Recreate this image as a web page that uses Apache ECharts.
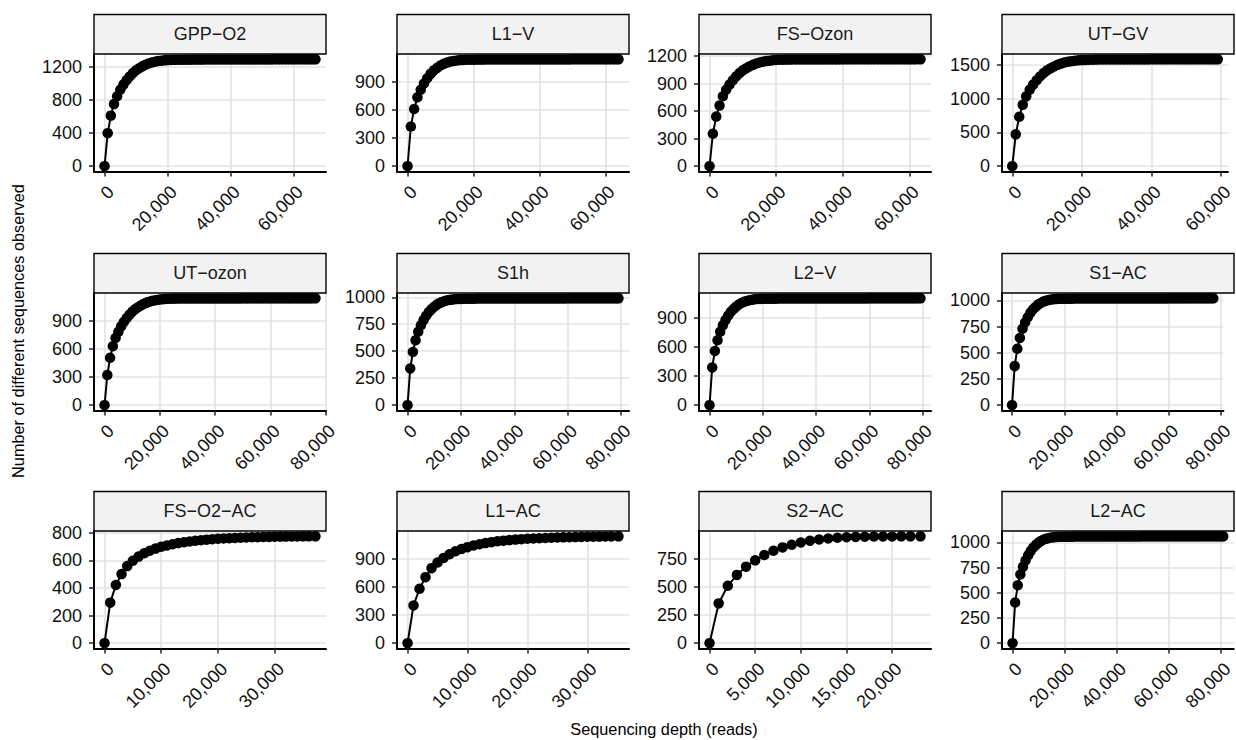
<!DOCTYPE html>
<html>
<head>
<meta charset="utf-8">
<script src="https://cdn.jsdelivr.net/npm/echarts@6/dist/echarts.min.js"></script>
<style>
  html, body { margin: 0; padding: 0; background: #fff; }
  #chart { width: 1236px; height: 740px; }
</style>
</head>
<body>
<div id="chart"></div>
<script>
// Rarefaction curves: distinct sequences observed vs. subsampled reads.
// Each sample is subsampled every STEP reads; the last point is the full depth.
const STEP = 1000;

const samples = ['GPP−O2', 'L1−V', 'FS−Ozon', 'UT−GV',
                 'UT−ozon', 'S1h', 'L2−V', 'S1−AC',
                 'FS−O2−AC', 'L1−AC', 'S2−AC', 'L2−AC'];

const depths = [67000, 64000, 63300, 59000,
                76300, 79000, 79200, 77000,
                37200, 35200, 23100, 80800];

const obsGPP_O2 = [
  0, 400, 612, 752, 846, 926, 988, 1041, 1087, 1127,
  1161, 1186, 1209, 1228, 1244, 1256, 1265, 1273, 1278, 1282,
  1285, 1287, 1288, 1289, 1289, 1290, 1290, 1290, 1291, 1291,
  1291, 1291, 1292, 1292, 1292, 1292, 1292, 1292, 1293, 1293,
  1293, 1293, 1293, 1293, 1293, 1293, 1293, 1293, 1293, 1293,
  1293, 1293, 1293, 1293, 1294, 1294, 1294, 1294, 1294, 1294,
  1294, 1294, 1294, 1294, 1294, 1294, 1294, 1294];

const obsL1_V = [
  0, 423, 610, 735, 815, 883, 939, 985, 1022, 1049,
  1074, 1092, 1105, 1116, 1123, 1128, 1132, 1134, 1135, 1136,
  1136, 1137, 1137, 1137, 1138, 1138, 1138, 1138, 1138, 1139,
  1139, 1139, 1139, 1139, 1139, 1139, 1139, 1139, 1139, 1139,
  1139, 1139, 1139, 1139, 1139, 1139, 1139, 1139, 1139, 1139,
  1140, 1140, 1140, 1140, 1140, 1140, 1140, 1140, 1140, 1140,
  1140, 1140, 1140, 1140, 1140];

const obsFS_Ozon = [
  0, 353, 540, 660, 761, 833, 889, 936, 978, 1014,
  1044, 1066, 1087, 1104, 1118, 1130, 1138, 1145, 1150, 1154,
  1157, 1159, 1160, 1161, 1161, 1162, 1162, 1162, 1163, 1163,
  1163, 1163, 1163, 1163, 1163, 1163, 1163, 1163, 1163, 1163,
  1164, 1164, 1164, 1164, 1164, 1164, 1164, 1164, 1164, 1164,
  1164, 1164, 1164, 1164, 1164, 1164, 1164, 1164, 1164, 1164,
  1164, 1164, 1164, 1164];

const obsUT_GV = [
  0, 472, 733, 910, 1036, 1134, 1210, 1275, 1332, 1381,
  1422, 1452, 1480, 1504, 1523, 1539, 1550, 1559, 1566, 1572,
  1575, 1578, 1580, 1581, 1582, 1583, 1583, 1584, 1584, 1585,
  1585, 1585, 1585, 1585, 1585, 1585, 1585, 1585, 1585, 1585,
  1586, 1586, 1586, 1586, 1586, 1586, 1586, 1586, 1586, 1586,
  1586, 1586, 1586, 1586, 1586, 1586, 1586, 1586, 1586, 1586];

const obsUT_ozon = [
  0, 321, 505, 628, 716, 782, 839, 886, 927, 962,
  994, 1020, 1041, 1059, 1076, 1090, 1100, 1109, 1116, 1121,
  1126, 1129, 1132, 1133, 1134, 1135, 1135, 1136, 1136, 1136,
  1137, 1137, 1137, 1137, 1137, 1137, 1137, 1137, 1137, 1137,
  1137, 1137, 1137, 1137, 1137, 1137, 1137, 1137, 1137, 1137,
  1138, 1138, 1138, 1138, 1138, 1138, 1138, 1138, 1138, 1138,
  1138, 1138, 1138, 1138, 1138, 1138, 1138, 1138, 1138, 1138,
  1138, 1138, 1138, 1138, 1138, 1138, 1138];

const obsS1h = [
  0, 340, 493, 601, 680, 740, 788, 829, 864, 890,
  912, 932, 946, 957, 965, 972, 976, 980, 983, 984,
  985, 986, 986, 987, 987, 987, 988, 988, 988, 988,
  989, 989, 989, 989, 989, 989, 989, 989, 989, 989,
  989, 989, 989, 989, 989, 989, 989, 989, 989, 989,
  989, 989, 989, 989, 989, 989, 989, 989, 989, 989,
  990, 990, 990, 990, 990, 990, 990, 990, 990, 990,
  990, 990, 990, 990, 990, 990, 990, 990, 990, 990];

const obsL2_V = [
  0, 390, 561, 671, 759, 826, 880, 926, 965, 994,
  1019, 1041, 1056, 1069, 1078, 1086, 1090, 1095, 1098, 1099,
  1100, 1101, 1101, 1102, 1102, 1102, 1103, 1103, 1103, 1103,
  1104, 1104, 1104, 1104, 1104, 1104, 1104, 1104, 1104, 1104,
  1104, 1104, 1104, 1104, 1104, 1104, 1104, 1104, 1104, 1104,
  1104, 1104, 1104, 1104, 1104, 1104, 1104, 1104, 1104, 1104,
  1105, 1105, 1105, 1105, 1105, 1105, 1105, 1105, 1105, 1105,
  1105, 1105, 1105, 1105, 1105, 1105, 1105, 1105, 1105, 1105];

const obsS1_AC = [
  0, 373, 538, 642, 729, 790, 839, 881, 914, 938,
  960, 976, 989, 998, 1004, 1009, 1012, 1014, 1015, 1016,
  1016, 1017, 1017, 1017, 1018, 1018, 1018, 1018, 1018, 1019,
  1019, 1019, 1019, 1019, 1019, 1019, 1019, 1019, 1019, 1019,
  1019, 1019, 1019, 1019, 1019, 1019, 1019, 1019, 1019, 1019,
  1019, 1019, 1019, 1019, 1019, 1019, 1019, 1019, 1019, 1019,
  1020, 1020, 1020, 1020, 1020, 1020, 1020, 1020, 1020, 1020,
  1020, 1020, 1020, 1020, 1020, 1020, 1020, 1020];

const obsFS_O2_AC = [
  0, 294, 422, 501, 559, 598, 628, 652, 671, 686,
  699, 709, 718, 726, 732, 738, 743, 747, 751, 754,
  757, 759, 761, 763, 765, 767, 768, 769, 770, 771,
  772, 773, 773, 774, 774, 775, 775, 775];

const obsL1_AC = [
  0, 402, 580, 704, 800, 860, 908, 948, 980, 1004,
  1024, 1041, 1055, 1067, 1077, 1086, 1093, 1099, 1104, 1109,
  1113, 1116, 1119, 1122, 1124, 1126, 1128, 1130, 1131, 1133,
  1134, 1135, 1136, 1137, 1138, 1139];

const obsS2_AC = [
  0, 353, 509, 606, 679, 735, 782, 820, 850, 873,
  894, 909, 920, 929, 935, 940, 943, 945, 946, 947,
  947, 948, 948, 948];

const obsL2_AC = [
  0, 403, 574, 682, 757, 821, 872, 916, 950, 975,
  998, 1015, 1028, 1037, 1043, 1049, 1052, 1054, 1055, 1056,
  1056, 1057, 1057, 1057, 1058, 1058, 1058, 1058, 1059, 1059,
  1059, 1059, 1059, 1059, 1059, 1059, 1059, 1059, 1059, 1059,
  1059, 1059, 1059, 1059, 1059, 1059, 1059, 1059, 1059, 1059,
  1060, 1060, 1060, 1060, 1060, 1060, 1060, 1060, 1060, 1060,
  1060, 1060, 1060, 1060, 1060, 1060, 1060, 1060, 1060, 1060,
  1060, 1060, 1060, 1060, 1060, 1060, 1060, 1060, 1060, 1060,
  1060, 1060];

const observed = [obsGPP_O2, obsL1_V, obsFS_Ozon, obsUT_GV,
                  obsUT_ozon, obsS1h, obsL2_V, obsS1_AC,
                  obsFS_O2_AC, obsL1_AC, obsS2_AC, obsL2_AC];

// Tick values shown on each panel
const yTicks = [
  [0, 400, 800, 1200], [0, 300, 600, 900], [0, 300, 600, 900, 1200], [0, 500, 1000, 1500],
  [0, 300, 600, 900], [0, 250, 500, 750, 1000], [0, 300, 600, 900], [0, 250, 500, 750, 1000],
  [0, 200, 400, 600, 800], [0, 300, 600, 900], [0, 250, 500, 750], [0, 250, 500, 750, 1000]
];
const xTicks = [
  [0, 20000, 40000, 60000], [0, 20000, 40000, 60000], [0, 20000, 40000, 60000], [0, 20000, 40000, 60000],
  [0, 20000, 40000, 60000, 80000], [0, 20000, 40000, 60000, 80000], [0, 20000, 40000, 60000, 80000], [0, 20000, 40000, 60000, 80000],
  [0, 10000, 20000, 30000], [0, 10000, 20000, 30000], [0, 5000, 10000, 15000, 20000], [0, 20000, 40000, 60000, 80000]
];

const xTitle = 'Sequencing depth (reads)';
const yTitle = 'Number of different sequences observed';

// Facet layout (pixels)
const FONT = "'Liberation Sans', Arial, Helvetica, sans-serif";
const colLeft = [94, 397, 699, 1002];
const rowTop = [54, 293, 531];
const panelW = 232, panelH = 117.5, stripH = 39.5;
const EXPAND = 0.05;
const TICK_FONT = 18;
const GRID_LINE = { color: '#E3E3E3', width: 1.6 };

const fmtThousands = v => Math.round(v).toLocaleString('en-US');

const grids = [], xAxes = [], yAxes = [], series = [], graphics = [];

samples.forEach((name, i) => {
  const r = Math.floor(i / 4), c = i % 4;
  const ys = observed[i];
  const depth = depths[i];
  const data = ys.map((y, k) => [k === ys.length - 1 ? depth : k * STEP, y]);
  const yMax = Math.max(...ys);

  grids.push({ left: colLeft[c], top: rowTop[r], width: panelW, height: panelH, containLabel: false });

  xAxes.push({
    type: 'value', gridIndex: i,
    min: -EXPAND * depth, max: (1 + EXPAND) * depth,
    axisLine: { show: true, onZero: false, lineStyle: { color: '#000', width: 2 } },
    axisTick: { show: true, length: 5, lineStyle: { color: '#222', width: 1.5 }, customValues: xTicks[i] },
    axisLabel: {
      customValues: xTicks[i], rotate: 45, align: 'right', verticalAlign: 'top',
      margin: 11, fontSize: TICK_FONT, fontFamily: FONT, color: '#111',
      formatter: v => fmtThousands(v)
    },
    splitLine: { show: true, lineStyle: GRID_LINE }
  });

  yAxes.push({
    type: 'value', gridIndex: i,
    min: -EXPAND * yMax, max: (1 + EXPAND) * yMax,
    axisLine: { show: true, onZero: false, lineStyle: { color: '#000', width: 2 } },
    axisTick: { show: true, length: 5, lineStyle: { color: '#222', width: 1.5 }, customValues: yTicks[i] },
    axisLabel: {
      customValues: yTicks[i], margin: 12, fontSize: TICK_FONT, fontFamily: FONT, color: '#111',
      formatter: v => String(Math.round(v))
    },
    splitLine: { show: true, lineStyle: GRID_LINE }
  });

  series.push({
    type: 'line', name, xAxisIndex: i, yAxisIndex: i, data,
    symbol: 'circle', symbolSize: 10.5, showAllSymbol: true,
    itemStyle: { color: '#000' },
    lineStyle: { color: '#000', width: 2 },
    clip: true, silent: true, animation: false, z: 3
  });

  // facet strip
  graphics.push({
    type: 'rect', silent: true, z: 20,
    shape: { x: colLeft[c], y: rowTop[r] - stripH, width: panelW, height: stripH },
    style: { fill: '#F2F2F2', stroke: '#000', lineWidth: 1.4 }
  });
  graphics.push({
    type: 'text', silent: true, z: 21,
    x: colLeft[c] + panelW / 2, y: rowTop[r] - stripH / 2,
    style: { text: name, align: 'center', verticalAlign: 'middle',
             fontSize: 18, fontFamily: FONT, fill: '#1a1a1a' }
  });
});

graphics.push({
  type: 'text', silent: true, z: 21,
  x: 664, y: 729,
  style: { text: xTitle, align: 'center', verticalAlign: 'middle', fontSize: 16.3, fontFamily: FONT, fill: '#000' }
});
graphics.push({
  type: 'text', silent: true, z: 21,
  x: 18, y: 331, rotation: Math.PI / 2,
  style: { text: yTitle, align: 'center', verticalAlign: 'middle', fontSize: 16.3, fontFamily: FONT, fill: '#000' }
});

const chart = echarts.init(document.getElementById('chart'), null, { renderer: 'svg' });
chart.setOption({
  backgroundColor: '#fff',
  animation: false,
  grid: grids,
  xAxis: xAxes,
  yAxis: yAxes,
  series,
  graphic: graphics
});
</script>
</body>
</html>
